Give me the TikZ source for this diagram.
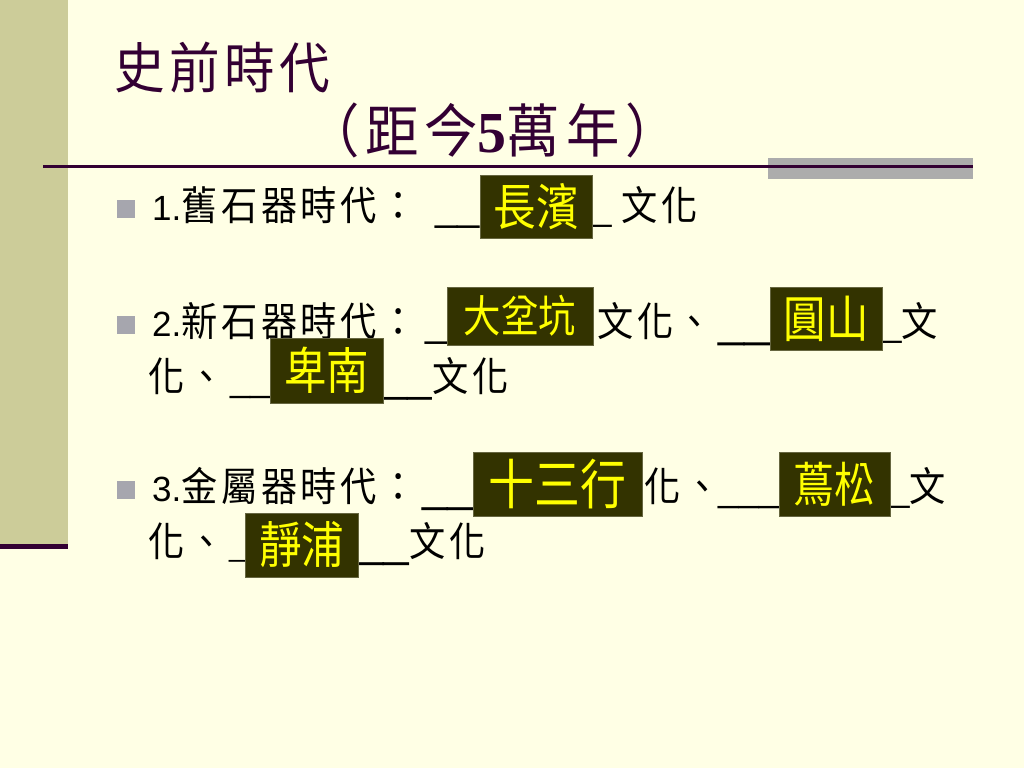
\documentclass[tikz,border=0pt]{standalone}
\usepackage{fontspec}
\setmainfont{Liberation Sans}
\newfontfamily\cjk[Scale=1.15, FakeStretch=0.9, LetterSpace=9]{Noto Sans CJK TC}
\newfontfamily\titlecjk[FakeStretch=0.92, LetterSpace=8]{Noto Sans CJK TC}
\newfontfamily\subtitlecjk[FakeStretch=0.92, LetterSpace=10]{Noto Sans CJK TC}
\newfontfamily\boxcjk[FakeStretch=0.85]{Noto Sans CJK TC}
\newfontfamily\titlenum{Liberation Serif}
\usepackage{tikz}

\definecolor{slidebg}{RGB}{255,255,229}
\definecolor{sidebar}{RGB}{204,204,153}
\definecolor{titlepurple}{RGB}{51,0,51}
\definecolor{bargray}{RGB}{172,172,172}
\definecolor{bulletgray}{RGB}{166,166,174}
\definecolor{boxolive}{RGB}{51,51,0}
\definecolor{answeryellow}{RGB}{255,255,0}

\begin{document}
\begin{tikzpicture}[x=1pt,y=-1pt,
        body/.style={anchor=base west, inner sep=0pt, font=\fontsize{35}{42}\selectfont},
        blank/.style={anchor=base west, inner sep=0pt, font=\fontsize{#1}{42}\selectfont},
        titletext/.style={anchor=base west, inner sep=0pt, text=titlepurple},
        answerbox/.style={fill=boxolive, draw=boxolive!75!white, inner sep=0pt, text=answeryellow},
        bulletbox/.style={fill=bulletgray, inner sep=0pt, minimum size=18pt}]
    \useasboundingbox (0,0) rectangle (1024,768);
    \fill[slidebg] (0,0) rectangle (1024,768);
    \fill[sidebar] (0,0) rectangle (68,544);
    \fill[titlepurple] (0,544) rectangle (68,549);

    \node[titletext, font=\titlecjk\fontsize{55}{55}\selectfont] (title) at (114,88) {史前時代};
    \node[titletext, font=\subtitlecjk\fontsize{58}{58}\selectfont] (subtitle) at (306,152) {（距今{\titlenum\bfseries 5}萬年）};
    \fill[bargray] (768,158) rectangle (973,179);
    \draw[titlepurple, line width=3pt] (43,166) -- (973,166);

    \node[bulletbox] (bullet1) at (126,209) {};
    \node[bulletbox] (bullet2) at (126,325) {};
    \node[bulletbox] (bullet3) at (126,490) {};

    \node[body] (paleo) at (152,220) {1.{\cjk 舊石器時代：}};
    \node[blank=40] (paleoa) at (435,220) {\_\_};
    \node[body] (paleob) at (592,220) {\_ {\cjk 文化}};

    \node[body] (neo) at (152,336) {2.{\cjk 新石器時代：}};
    \node[blank=40] (neoa) at (425,336) {\_};
    \node[body] (neob) at (597,336) {\cjk 文化、};
    \node[blank=47] (neoc) at (718,336) {\_\_};
    \node[body] (neod) at (882,336) {\_{\cjk 文}};
    \node[body] (neoe) at (148,391) {\cjk 化、};
    \node[blank=36] (neof) at (230,391) {\_\_};
    \node[blank=44] (neog) at (383,391) {\_\_};
    \node[body] (neoh) at (432,391) {\cjk 文化};

    \node[body] (metal) at (152,501) {3.{\cjk 金屬器時代：}};
    \node[blank=46] (metala) at (422,501) {\_\_};
    \node[body] (metalb) at (644,501) {\cjk 化、};
    \node[blank=36.5] (metalc) at (718,501) {\_\_\_};
    \node[body] (metald) at (890,501) {\_{\cjk 文}};
    \node[body] (metale) at (148,556) {\cjk 化、};
    \node[blank=29] (metalf) at (229,556) {\_};
    \node[blank=46] (metalg) at (358,556) {\_\_};
    \node[body] (metalh) at (409,556) {\cjk 文化};

    \node[answerbox, minimum width=112pt, minimum height=63pt, font=\boxcjk\fontsize{50}{50}\selectfont] (changbin) at (536,206.5) {長濱};
    \node[answerbox, minimum width=146pt, minimum height=58pt, font=\boxcjk\fontsize{44}{44}\selectfont] (dabenkeng) at (520,316) {大坌坑};
    \node[answerbox, minimum width=112pt, minimum height=63pt, font=\boxcjk\fontsize{50}{50}\selectfont] (yuanshan) at (826,318.5) {圓山};
    \node[answerbox, minimum width=113pt, minimum height=65pt, font=\boxcjk\fontsize{50}{50}\selectfont] (beinan) at (326.5,370.5) {卑南};
    \node[answerbox, minimum width=169pt, minimum height=64pt, font=\boxcjk\fontsize{54}{54}\selectfont] (shisanhang) at (557.5,484) {十三行};
    \node[answerbox, minimum width=111pt, minimum height=64pt, font=\boxcjk\fontsize{48}{48}\selectfont] (niaosong) at (834.5,484) {蔦松};
    \node[answerbox, minimum width=113pt, minimum height=64pt, font=\boxcjk\fontsize{50}{50}\selectfont] (jingpu) at (301.5,545) {靜浦};
\end{tikzpicture}
\end{document}
